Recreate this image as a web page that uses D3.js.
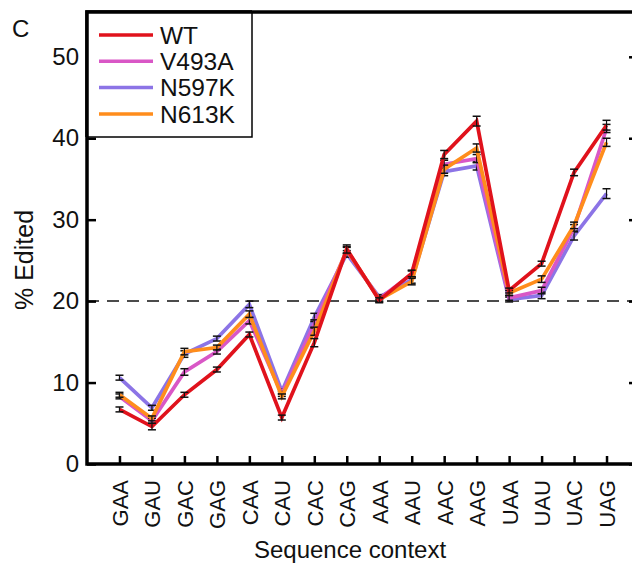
<!DOCTYPE html>
<html>
<head>
<meta charset="utf-8">
<script src="https://cdn.jsdelivr.net/npm/d3@7"></script>
<style>
  html, body { margin: 0; padding: 0; background: #fff; }
  svg { display: block; font-family: "Liberation Sans", Arial, Helvetica, sans-serif; }
</style>
</head>
<body>
<svg id="chart" width="632" height="567"></svg>
<script>
const categories = ["GAA","GAU","GAC","GAG","CAA","CAU","CAC","CAG","AAA","AAU","AAC","AAG","UAA","UAU","UAC","UAG"];
const seriesNames = ["WT","V493A","N597K","N613K"];
const wtValues    = [6.7, 4.6, 8.5, 11.6, 15.9, 5.7, 14.9, 26.4, 20.1, 23.4, 38.0, 42.1, 21.3, 24.6, 35.8, 41.6];
const v493aValues = [8.3, 5.3, 11.3, 13.8, 17.6, 8.6, 17.2, 26.2, 20.3, 23.3, 36.8, 37.5, 20.4, 21.3, 29.0, 41.2];
const n597kValues = [10.6, 6.9, 13.5, 15.4, 19.6, 8.9, 18.0, 25.8, 20.5, 22.6, 35.9, 36.6, 20.2, 20.7, 28.0, 33.2];
const n613kValues = [8.5, 5.6, 13.8, 14.3, 18.4, 8.3, 16.3, 26.3, 20.2, 22.4, 36.2, 38.8, 21.0, 22.7, 29.3, 39.5];
const wtErr    = [0.3, 0.4, 0.3, 0.3, 0.3, 0.3, 0.5, 0.5, 0.3, 0.4, 0.5, 0.6, 0.3, 0.3, 0.4, 0.6];
const v493aErr = [0.3, 0.3, 0.4, 0.3, 0.4, 0.3, 0.5, 0.4, 0.3, 0.4, 0.5, 0.5, 0.3, 0.4, 0.4, 0.5];
const n597kErr = [0.3, 0.3, 0.4, 0.3, 0.4, 0.3, 0.5, 0.4, 0.3, 0.4, 0.5, 0.5, 0.3, 0.4, 0.5, 0.6];
const n613kErr = [0.3, 0.3, 0.4, 0.3, 0.4, 0.3, 0.5, 0.4, 0.3, 0.4, 0.5, 0.5, 0.3, 0.4, 0.4, 0.5];
const yTicks = [0, 10, 20, 30, 40, 50];
const refLine = 20;
const colors = ["#e0121c", "#d957c6", "#8c74e6", "#ff8d1c"];

const svg = d3.select("#chart");
const pLeft = 87, pRight = 639, pTop = 12, pBottom = 464;

const x = d3.scalePoint().domain(categories).range([pLeft, pRight]).padding(1);
const y = d3.scaleLinear().domain([0, 55.5]).range([pBottom, pTop]);

// dashed reference line
svg.append("line")
  .attr("x1", pLeft).attr("x2", pRight)
  .attr("y1", y(refLine)).attr("y2", y(refLine))
  .attr("stroke", "#111").attr("stroke-width", 1.5)
  .attr("stroke-dasharray", "12,8");

// series
const series = [
  {name: seriesNames[2], vals: n597kValues, err: n597kErr, color: colors[2]},
  {name: seriesNames[1], vals: v493aValues, err: v493aErr, color: colors[1]},
  {name: seriesNames[3], vals: n613kValues, err: n613kErr, color: colors[3]},
  {name: seriesNames[0], vals: wtValues, err: wtErr, color: colors[0]}
];
const line = d3.line().x((d, i) => x(categories[i])).y(d => y(d));

series.forEach(s => {
  const g = svg.append("g");
  g.append("path").datum(s.vals)
    .attr("d", line).attr("fill", "none")
    .attr("stroke", s.color).attr("stroke-width", 3.7)
    .attr("stroke-linejoin", "miter");
  s.vals.forEach((v, i) => {
    const cx = x(categories[i]);
    const e = s.err[i];
    g.append("line").attr("x1", cx).attr("x2", cx)
      .attr("y1", y(v - e)).attr("y2", y(v + e))
      .attr("stroke", "#111").attr("stroke-width", 1.2);
    [v - e, v + e].forEach(t => {
      g.append("line").attr("x1", cx - 4).attr("x2", cx + 4)
        .attr("y1", y(t)).attr("y2", y(t))
        .attr("stroke", "#111").attr("stroke-width", 1.5);
    });
  });
});

// axes
const yAxisL = d3.axisLeft(y).tickValues(yTicks).tickSizeInner(-9).tickSizeOuter(0).tickPadding(8);
const gy = svg.append("g").attr("transform", `translate(${pLeft},0)`).call(yAxisL);
gy.select(".domain").remove();
gy.selectAll(".tick line").attr("stroke", "#000").attr("stroke-width", 2.5);
gy.selectAll(".tick text").attr("font-size", 24).attr("fill", "#111")
  .attr("font-family", "Liberation Sans, Arial, sans-serif");

const yAxisR = d3.axisRight(y).tickValues(yTicks).tickSizeInner(-10).tickSizeOuter(0).tickFormat("");
const gyr = svg.append("g").attr("transform", `translate(${pRight},0)`).call(yAxisR);
gyr.select(".domain").remove();
gyr.selectAll(".tick line").attr("stroke", "#000").attr("stroke-width", 2.5);

const xAxis = d3.axisBottom(x).tickSizeInner(-8).tickSizeOuter(0).tickPadding(0);
const gx = svg.append("g").attr("transform", `translate(0,${pBottom})`).call(xAxis);
gx.select(".domain").remove();
gx.selectAll(".tick line").attr("stroke", "#000").attr("stroke-width", 2.5);
gx.selectAll(".tick text")
  .attr("font-size", 22).attr("fill", "#111")
  .attr("font-family", "Liberation Sans, Arial, sans-serif")
  .attr("text-anchor", "end")
  .attr("transform", "rotate(-90)")
  .attr("x", -16).attr("y", 0).attr("dy", "0.36em");

// frame
svg.append("path")
  .attr("d", `M${pRight},${pTop} L${pLeft},${pTop} L${pLeft},${pBottom} L${pRight},${pBottom}`)
  .attr("fill", "none").attr("stroke", "#000").attr("stroke-width", 3.5)
  .attr("stroke-linecap", "square");
svg.append("line").attr("x1", pRight).attr("x2", pRight).attr("y1", pTop).attr("y2", pBottom)
  .attr("stroke", "#000").attr("stroke-width", 3.5);

// legend
const lg = svg.append("g");
lg.append("rect").attr("x", pLeft).attr("y", pTop).attr("width", 165).attr("height", 125)
  .attr("fill", "#fff").attr("stroke", "#000").attr("stroke-width", 1.5);
lg.append("path")
  .attr("d", `M${pLeft},${pTop + 125} L${pLeft},${pTop} L${pLeft + 165},${pTop}`)
  .attr("fill", "none").attr("stroke", "#000").attr("stroke-width", 3.5);
seriesNames.forEach((n, i) => {
  const yy = 35 + i * 26.3;
  lg.append("line").attr("x1", 99).attr("x2", 153).attr("y1", yy).attr("y2", yy)
    .attr("stroke", colors[i]).attr("stroke-width", 3.5);
  lg.append("text").attr("x", 160).attr("y", yy).attr("dy", "0.36em")
    .attr("font-size", 24.5).attr("fill", "#111").text(n);
});

// labels
svg.append("text").attr("x", 12).attr("y", 37).attr("font-size", 24).attr("fill", "#111").text("C");
svg.append("text").attr("transform", "translate(33,260) rotate(-90)")
  .attr("text-anchor", "middle").attr("font-size", 25).attr("fill", "#111").text("% Edited");
svg.append("text").attr("x", 350).attr("y", 558).attr("text-anchor", "middle")
  .attr("font-size", 24).attr("fill", "#111").text("Sequence context");
</script>
</body>
</html>
